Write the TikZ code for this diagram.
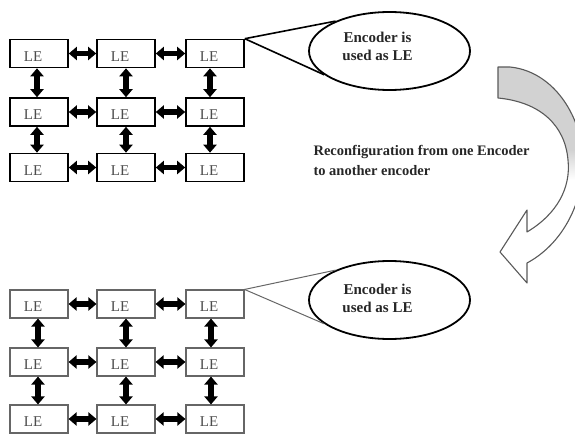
\documentclass[tikz,border=0pt]{standalone}
\usepackage{fontspec}
\setmainfont{Liberation Serif}
\usetikzlibrary{shapes.geometric,arrows.meta}
\begin{document}
\begin{tikzpicture}[x=1pt,y=-1pt,
  lebox/.style={draw, line width=1.6pt, minimum width=58pt, minimum height=28pt, inner sep=0pt,
    label={[letext]center:LE}},
  lebox2/.style={lebox, draw=black!60, line width=1.1pt},
  letext/.style={xshift=-6pt, yshift=-3pt, text=black!70, font=\fontsize{15}{17}\selectfont},
  dbl/.style={line width=5.5pt, {Triangle[length=8pt,width=13pt]}-{Triangle[length=8pt,width=13pt]}},
  ell/.style={draw, ellipse, line width=1.8pt, minimum width=161pt, minimum height=78pt, inner sep=0pt},
  etext/.style={anchor=base, text=black!85, font=\bfseries\fontsize{15}{18}\selectfont},
  mtext/.style={anchor=base west, text=black!85, font=\bfseries\fontsize{14.5}{18}\selectfont},
  callout/.style={line width=1.6pt},
  callout2/.style={line width=1pt, draw=black!60},
  bandline/.style={line width=1.1pt, draw=black!65, line join=round}
]
\useasboundingbox (0,0) rectangle (575,436);

% ---------- upper grid of logic elements ----------
\foreach \r/\y in {1/53.5, 2/112, 3/167.5}
  \foreach \c/\x in {1/39, 2/126, 3/215}
    \node[lebox] (a\r\c) at (\x,\y) {};

\foreach \r in {1,2,3} {
  \draw[dbl] (a\r1.east) -- (a\r2.west);
  \draw[dbl] (a\r2.east) -- (a\r3.west);
}
\foreach \r/\s in {1/2, 2/3} {
  \draw[dbl] ([xshift=-2pt]a\r1.south) -- ([xshift=-2pt]a\s1.north);
  \draw[dbl] (a\r2.south) -- (a\s2.north);
  \draw[dbl] ([xshift=-5pt]a\r3.south) -- ([xshift=-5pt]a\s3.north);
}

% ---------- lower grid of logic elements ----------
\foreach \r/\y in {1/304, 2/362, 3/419}
  \foreach \c/\x in {1/39, 2/126, 3/215}
    \node[lebox2] (b\r\c) at (\x,\y) {};

\foreach \r in {1,2,3} {
  \draw[dbl] (b\r1.east) -- (b\r2.west);
  \draw[dbl] (b\r2.east) -- (b\r3.west);
}
\foreach \r/\s in {1/2, 2/3} {
  \draw[dbl] ([xshift=-1pt]b\r1.south) -- ([xshift=-1pt]b\s1.north);
  \draw[dbl] (b\r2.south) -- (b\s2.north);
  \draw[dbl] ([xshift=-4pt]b\r3.south) -- ([xshift=-4pt]b\s3.north);
}

% ---------- callout ellipses ----------
\node[ell] (e1) at (389.5,51) {};
\node[etext] (e1a) at (377.5,42.7) {Encoder is};
\node[etext] (e1b) at (377.5,60.7) {used as LE};
\draw[callout] (a13.north east) -- (e1.151);
\draw[callout] (a13.north east) -- (e1.200);

\node[ell] (e2) at (389.5,300) {};
\node[etext] (e2a) at (377.5,294) {Encoder is};
\node[etext] (e2b) at (377.5,312) {used as LE};
\draw[callout2] (b13.north east) -- (e2.151);
\draw[callout2] (b13.north east) -- (e2.200);

% ---------- reconfiguration text ----------
\node[mtext] (m1) at (310,155) {Reconfiguration from one Encoder};
\node[mtext] (m2) at (310,175) {to another encoder};

% ---------- curved reconfiguration arrow ----------
\def\bandpath{(498,67) -- (510,67) .. controls (560,72) and (590,130) .. (582,180)
  .. controls (576,218) and (555,248) .. (527,263) -- (527,283) -- (500,252)
  -- (527,210) -- (527,232) .. controls (557,214) and (571,188) .. (568,160)
  .. controls (565,125) and (540,102) .. (498,98) -- cycle}
\begin{scope}
  \clip \bandpath;
  \fill[gray!35] (480,55) rectangle (595,150);
  \shade[top color=gray!35, bottom color=white] (480,150) rectangle (595,180);
\end{scope}
\draw[bandline] \bandpath;
\end{tikzpicture}
\end{document}
